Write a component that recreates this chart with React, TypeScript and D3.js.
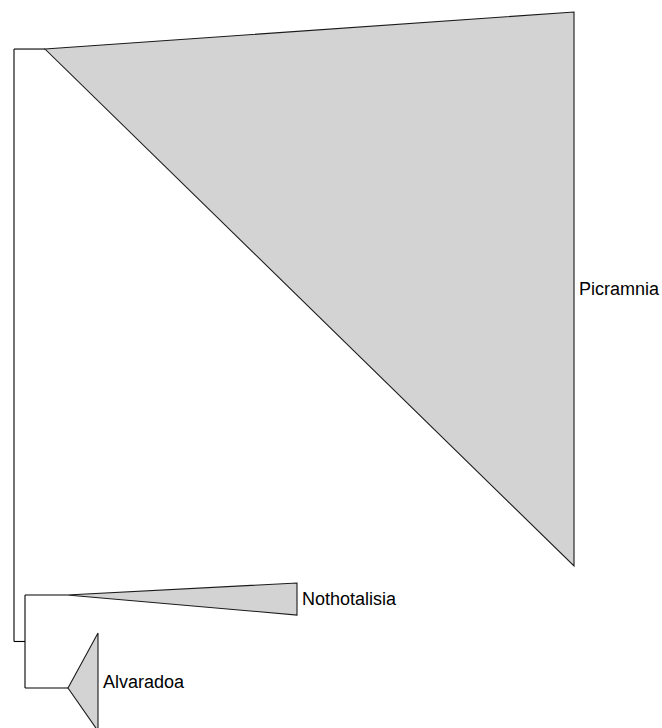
import React from 'react';
import * as d3 from 'd3';

// collapsed clades: stem length (from parent), crown depth (node to tips),
// tip extent (lowest/highest row) and node row
const clades = ['Picramnia', 'Nothotalisia', 'Alvaradoa'];
const cladeParent = ['root', 'inner', 'inner'];
const stemLength = [0.031, 0.042, 0.043];
const crownDepth = [0.529, 0.23, 0.03];
const rowLow = [22.95, 16.13, 0];
const rowHigh = [100, 20.58, 13.63];
const nodeRow = [94.85, 18.92, 5.98];

// the one uncollapsed internal node under the root
const innerStem = 0.011;

const W = 662;
const H = 728;

export default function App() {
  const x = d3.scaleLinear().domain([0, 0.56]).range([14, 574]);
  const y = d3.scaleLinear().domain([0, 100]).range([731, 12]);

  const innerRow = (nodeRow[1] + nodeRow[2]) / 2;
  const depthOf = (p: string) => (p === 'root' ? 0 : innerStem);
  const rowOf = (p: string) => (p === 'root' ? null : innerRow);

  const edges: string[] = [];
  // root edges
  const rootKids = [nodeRow[0], innerRow];
  edges.push(`M${x(0)},${y(d3.max(rootKids)!)}V${y(d3.min(rootKids)!)}`);
  edges.push(`M${x(0)},${y(innerRow)}H${x(innerStem)}`);
  edges.push(`M${x(innerStem)},${y(nodeRow[1])}V${y(nodeRow[2])}`);

  clades.forEach((c, i) => {
    const d0 = depthOf(cladeParent[i]);
    edges.push(`M${x(d0)},${y(nodeRow[i])}H${x(d0 + stemLength[i])}`);
  });

  return (
    <svg
      width={W}
      height={H}
      style={{ position: 'absolute', left: 0, top: 0, background: '#fff' }}
      fontFamily="'Liberation Sans', Arial, sans-serif"
    >
      {edges.map((d, i) => (
        <path key={i} d={d} fill="none" stroke="#000" strokeWidth={1.1} />
      ))}
      {clades.map((c, i) => {
        const d0 = depthOf(cladeParent[i]) + stemLength[i];
        const tipX = x(d0 + crownDepth[i]);
        const pts: [number, number][] = [
          [x(d0), y(nodeRow[i])],
          [tipX, y(rowHigh[i])],
          [tipX, y(rowLow[i])],
        ];
        const tri = d3.line()(pts) + 'Z';
        void rowOf;
        return (
          <g key={c}>
            <path d={tri} fill="#d3d3d3" stroke="#1a1a1a" strokeWidth={1.1} />
            <text
              x={tipX + 5}
              y={y((rowLow[i] + rowHigh[i]) / 2)}
              dy="0.35em"
              fontSize={18}
              fill="#000"
            >
              {c}
            </text>
          </g>
        );
      })}
    </svg>
  );
}
